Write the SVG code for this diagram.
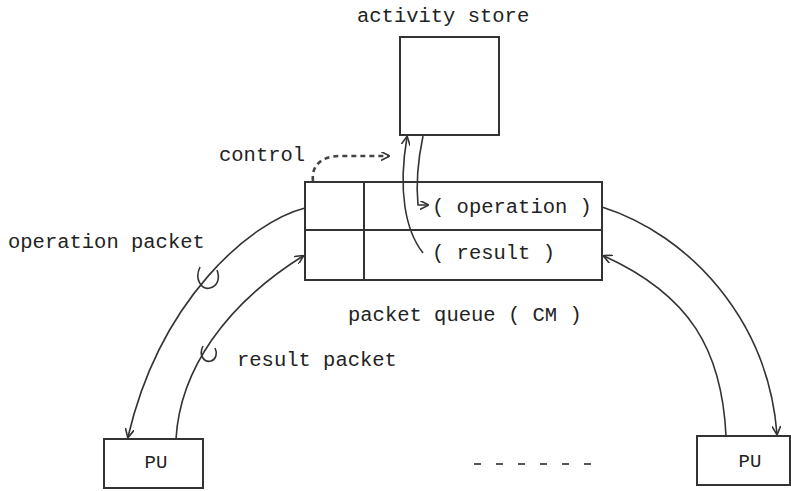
<svg xmlns="http://www.w3.org/2000/svg" width="791" height="491" viewBox="0 0 791 491">
  <style>
    .box { fill: #ffffff; stroke: #333333; stroke-width: 2; }
    .div { stroke: #333333; stroke-width: 2; fill: none; }
    .wire { fill: none; stroke: #333333; stroke-width: 1.6; }
    .curl { fill: none; stroke: #333333; stroke-width: 1.6; }
    .ctl { fill: none; stroke: #444444; stroke-width: 2.6; stroke-dasharray: 5 4; }
    .lbl { font-family: "Liberation Mono", "DejaVu Sans Mono", monospace; font-size: 20.5px; fill: #222222; }
    .pu { font-family: "Liberation Mono", "DejaVu Sans Mono", monospace; font-size: 19px; fill: #222222; text-anchor: middle; }
    .dash { stroke: #555555; stroke-width: 2; stroke-dasharray: 7 15; }
  </style>
  <defs>
    <marker id="arrow" viewBox="0 0 10 10" refX="9" refY="5" markerWidth="9" markerHeight="9" markerUnits="userSpaceOnUse" orient="auto">
      <path d="M0,0 L10,5 L0,10" fill="none" stroke="#333333" stroke-width="1.8"/>
    </marker>
  </defs>

  <rect width="791" height="491" fill="#ffffff"/>

  <!-- activity store -->
  <g id="activity-store">
    <rect class="box" x="400" y="37" width="99" height="98"/>
    <text class="lbl" x="357" y="22">activity store</text>
  </g>

  <!-- packet queue (CM) -->
  <g id="packet-queue">
    <rect class="box" x="305" y="182" width="297" height="98"/>
    <line class="div" x1="305" y1="230" x2="602" y2="230"/>
    <line class="div" x1="364" y1="182" x2="364" y2="280"/>
    <text class="lbl" x="432" y="213">( operation )</text>
    <text class="lbl" x="432" y="259">( result )</text>
    <text class="lbl" x="348" y="321">packet queue ( CM )</text>
  </g>

  <!-- processing units -->
  <g id="pu-left">
    <rect class="box" x="104" y="439" width="99" height="49"/>
    <text class="pu" x="156" y="468">PU</text>
  </g>
  <g id="pu-right">
    <rect class="box" x="697" y="436" width="93" height="49"/>
    <text class="pu" x="750" y="467">PU</text>
  </g>

  <!-- further units elided -->
  <g id="ellipsis">
    <line class="dash" x1="474" y1="464" x2="594" y2="464"/>
  </g>

  <!-- labels -->
  <g id="labels">
    <text class="lbl" x="219" y="161">control</text>
    <text class="lbl" x="8" y="248">operation packet</text>
    <text class="lbl" x="237" y="366">result packet</text>
  </g>

  <!-- connectors -->
  <g id="connectors">
    <!-- control signal -->
    <path class="ctl" d="M313,181 C311,165 322,156 340,156 L389,156" marker-end="url(#arrow)"/>
    <!-- store <-> queue -->
    <path class="wire" d="M423,253 C405,230 398,190 407,137" marker-end="url(#arrow)"/>
    <path class="wire" d="M423,136 C418,160 416,185 418,205 L428,205" marker-end="url(#arrow)"/>
    <!-- left PU -->
    <path class="wire" d="M305,208 C250,222 160,300 128,437" marker-end="url(#arrow)"/>
    <path class="wire" d="M176,439 C180,370 225,305 303,256" marker-end="url(#arrow)"/>
    <path class="curl" d="M200,267 C194,280 202,290 210,288 C218,286 220,278 217,270"/>
    <path class="curl" d="M203,346 C198,356 205,363 211,361 C217,359 217,352 215,348"/>
    <!-- right PU -->
    <path class="wire" d="M602,207 C690,235 768,320 777,434" marker-end="url(#arrow)"/>
    <path class="wire" d="M726,436 C722,350 690,295 604,256" marker-end="url(#arrow)"/>
  </g>
</svg>
